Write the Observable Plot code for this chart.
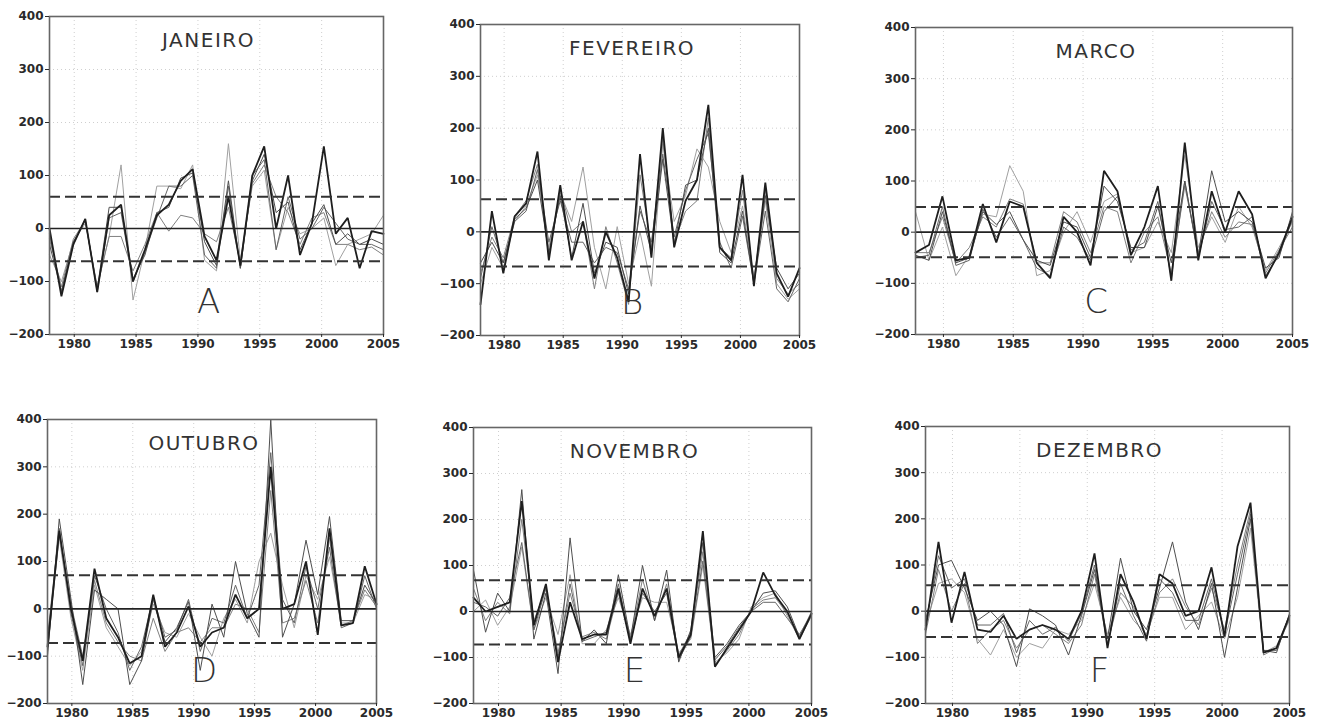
<!DOCTYPE html>
<html><head><meta charset="utf-8">
<script src="https://cdn.jsdelivr.net/npm/d3@7"></script>
<script src="https://cdn.jsdelivr.net/npm/@observablehq/plot@0.6"></script>
<style>
body{margin:0;background:#fff;width:1323px;height:723px;overflow:hidden;position:relative;}
.panel{position:absolute;}
</style></head><body>
<script>
// ---- data ----
const nPoints = 29;              // samples per series, evenly spread over the axis
const tStart = 1978, tEnd = 2005;
const xTicks = [1980, 1985, 1990, 1995, 2000, 2005];
const yTicks = [-200, -100, 0, 100, 200, 300, 400];
const gridX = [1980, 1985, 1990, 1995, 2000];
const gridY = [-100, 100, 200, 300];
const months = ["JANEIRO", "FEVEREIRO", "MARCO", "OUTUBRO", "NOVEMBRO", "DEZEMBRO"];
const letters = ["A", "B", "C", "D", "E", "F"];
const upper = [60, 63, 49, 71, 68, 56];
const lower = [-62, -67, -49, -72, -72, -56];

const A1 = [0,-128,-30,18,-120,25,45,-100,-40,25,45,90,112,-15,-60,60,-70,100,155,0,100,-50,10,155,-10,20,-75,-5,-10];
const A2 = [-30,-118,-25,15,-115,40,40,-95,-50,30,40,95,105,-25,-70,90,-75,90,140,30,50,-40,10,45,-30,-10,-30,-20,-30];
const A3 = [-50,-100,-25,10,-110,-15,120,-135,-40,80,80,75,120,-60,-80,160,-60,80,110,-40,40,-10,0,20,-70,-30,-20,-10,25];
const A4 = [-20,-110,-20,15,-110,-15,-15,-80,-30,30,-5,25,20,-10,-25,40,-65,85,120,60,30,-30,20,30,-30,-30,-40,-35,-50];
const A5 = [-10,-120,-30,18,-120,20,30,-100,-45,20,80,80,100,-50,-75,80,-75,100,130,-40,60,-20,0,40,10,-20,-30,-30,-40];

const B1 = [-140,40,-80,30,55,155,-55,90,-55,20,-90,0,-50,-135,150,-50,200,-30,60,100,245,-30,-55,110,-105,95,-80,-125,-70];
const B2 = [-60,-20,-60,25,45,100,-40,70,-50,55,-80,-20,-30,-120,50,-40,140,-25,90,100,200,-40,-60,40,-100,70,-70,-110,-80];
const B3 = [-100,-30,-70,20,50,110,-30,75,20,125,-30,-110,10,-100,0,-105,170,20,70,160,125,20,-40,50,-90,60,-100,-130,-110];
const B4 = [-80,-10,-50,30,60,130,-50,80,0,20,-110,10,-60,-140,110,-30,180,-20,40,60,220,-30,-50,80,-95,80,-90,-120,-100];
const B5 = [-90,10,-60,20,40,120,-20,60,-20,-20,-60,-30,-40,-110,40,-20,150,-10,80,140,190,-20,-70,30,-100,40,-110,-135,-90];

const C1 = [-40,-25,70,-55,-50,55,-20,60,50,-60,-90,30,0,-65,120,80,-45,10,90,-95,175,-55,80,0,80,35,-90,-40,30];
const C2 = [-45,-55,40,-60,-50,40,15,40,-15,-55,-65,20,10,-50,90,60,-30,-30,50,-60,100,-45,120,20,40,20,-70,-50,40];
const C3 = [40,-55,10,-85,-45,35,30,130,80,-85,-75,0,40,-20,60,75,-40,-30,20,-40,150,-30,30,-20,50,10,-75,-30,20];
const C4 = [-40,-40,30,-60,-30,30,10,65,55,-60,-60,40,20,-40,50,40,-60,0,30,-80,90,-40,40,-10,20,15,-80,-35,10];
const C5 = [-50,-45,50,-65,-55,45,-10,30,-15,-70,-85,10,-10,-55,40,70,-35,-20,60,-90,100,-50,60,5,10,30,-85,-45,25];

const D1 = [-80,165,0,-110,85,-20,-60,-115,-100,30,-80,-50,5,-80,-50,-40,30,-20,0,300,0,10,100,-55,170,-35,-30,90,10];
const D2 = [-100,190,20,-160,40,20,0,-160,-110,20,-70,-40,15,-130,10,-60,100,-10,-60,400,-60,10,145,30,195,-25,-25,50,10];
const D3 = [-70,150,-20,-130,50,-40,-80,-120,-90,10,-50,-60,-10,-60,-100,-20,20,-30,100,160,50,-40,70,20,110,-30,-30,30,20];
const D4 = [-90,160,10,-100,60,-30,-70,-100,-110,-20,-90,-50,-40,-70,-40,-40,10,0,-50,250,-30,-20,60,-30,150,-35,-25,40,5];
const D5 = [-60,170,-10,-120,70,0,-50,-130,-80,25,-60,-45,20,-90,-20,-30,50,-20,50,330,20,-30,90,0,130,-40,-30,70,0];

const E1 = [30,0,10,20,240,-30,60,-110,20,-60,-50,-50,50,-70,50,-10,50,-100,-50,175,-120,-80,-40,0,85,35,0,-60,-5];
const E2 = [90,-45,40,0,265,-60,40,-135,160,-65,-40,-70,80,-60,100,-20,90,-110,-40,150,-100,-70,-30,0,40,45,10,-55,-5];
const E3 = [0,25,-30,10,140,-40,30,-50,80,-70,-70,-40,30,-50,30,20,20,-90,-60,100,-110,-90,-60,10,30,40,-10,-60,-10];
const E4 = [50,-20,20,-5,200,-20,50,-90,40,-55,-45,-60,40,-60,70,-20,60,-95,-45,130,-115,-85,-50,5,25,30,-5,-55,0];
const E5 = [20,10,-10,30,150,-40,50,-100,60,-65,-55,-45,60,-65,40,0,40,-105,-55,110,-105,-75,-35,0,20,20,-15,-50,-5];

const F1 = [-40,150,-25,85,-40,-45,-10,-60,-40,-30,-40,-60,0,125,-80,80,20,-60,80,60,-10,0,95,-55,140,235,-90,-80,-10];
const F2 = [-20,100,110,50,-20,0,-30,-120,5,-10,-30,-95,-10,90,-60,115,0,-40,50,150,20,-40,60,-100,50,200,-85,-90,-5];
const F3 = [-30,60,70,40,-60,-95,-40,-100,-70,-80,-40,-50,-20,60,-50,30,-20,-50,30,30,-40,-10,20,-60,30,180,-90,-75,-20];
const F4 = [-50,90,0,60,-70,-40,-20,-80,-40,-30,-50,-70,-30,80,-70,40,10,-55,40,70,10,-30,50,-40,100,220,-95,-80,-10];
const F5 = [-30,120,50,70,-30,-30,-5,-90,-20,-50,-35,-65,-5,100,-75,60,-10,-65,70,40,-20,-20,70,-50,80,210,-85,-85,-15];

const panelSeries = [
  [A1, A2, A3, A4, A5],
  [B1, B2, B3, B4, B5],
  [C1, C2, C3, C4, C5],
  [D1, D2, D3, D4, D5],
  [E1, E2, E3, E4, E5],
  [F1, F2, F3, F4, F5]
];

// ---- layout & style ----
const frames = [
  {x0: 49,  x1: 383,  y0: 16,  y1: 334},
  {x0: 480, x1: 799,  y0: 24,  y1: 335},
  {x0: 915, x1: 1292, y0: 27,  y1: 334},
  {x0: 47,  x1: 376,  y0: 419, y1: 703},
  {x0: 473, x1: 811,  y0: 427, y1: 703},
  {x0: 925, x1: 1289, y0: 426, y1: 703}
];
const M = {l: 47, r: 26, t: 8, b: 22};
const seriesStyle = [
  {stroke: "#1e1e1e", w: 1.8},
  {stroke: "#4e4e4e", w: 1.0},
  {stroke: "#a0a0a0", w: 1.0},
  {stroke: "#808080", w: 1.0},
  {stroke: "#666", w: 1.0}
];
const drawOrder = [2, 3, 4, 1, 0];

const times = d3.range(nPoints).map(i => tStart + i * (tEnd - tStart) / (nPoints - 1));

frames.forEach((f, p) => {
  const series = panelSeries[p];
  const lineMarks = drawOrder.map(k =>
    Plot.line(series[k].map((v, j) => ({t: times[j], v})), {
      x: "t", y: "v",
      stroke: seriesStyle[k].stroke,
      strokeWidth: seriesStyle[k].w,
      strokeLinejoin: "miter"
    })
  );
  const chart = Plot.plot({
    width: (f.x1 - f.x0) + M.l + M.r,
    height: (f.y1 - f.y0) + M.t + M.b,
    marginLeft: M.l, marginRight: M.r, marginTop: M.t, marginBottom: M.b,
    style: {fontFamily: "DejaVu Sans", fontSize: "12px", color: "#2a2a2a", background: "transparent", overflow: "visible"},
    x: {domain: [tStart, tEnd]},
    y: {domain: [-200, 400]},
    marks: [
      Plot.ruleX(gridX, {stroke: "#cfcfcf", strokeDasharray: "1,3", strokeWidth: 1}),
      Plot.ruleY(gridY, {stroke: "#cfcfcf", strokeDasharray: "1,3", strokeWidth: 1}),
      ...lineMarks,
      Plot.ruleY([0], {stroke: "#222", strokeWidth: 1.6}),
      Plot.ruleY([upper[p], lower[p]], {stroke: "#333", strokeWidth: 2, strokeDasharray: "11,5"}),
      Plot.frame({stroke: "#666", strokeWidth: 1.6}),
      Plot.axisX({ticks: xTicks, tickFormat: d => String(d), tickSize: 3, tickPadding: 2, label: null, fontWeight: "bold", fontSize: 12}),
      Plot.axisY({ticks: yTicks, tickSize: 4, tickPadding: 2, label: null, fontWeight: "bold", fontSize: 12}),
      Plot.text([months[p]], {text: d => d, frameAnchor: "top", dx: -8, dy: 16, fontSize: 20, fill: "#333"}),
      Plot.text([letters[p]], {text: d => d, frameAnchor: "bottom", dx: -8, dy: -22, fontSize: 34, fill: "#333", fontWeight: 300})
    ]
  });
  chart.classList.add("panel");
  chart.style.left = (f.x0 - M.l) + "px";
  chart.style.top = (f.y0 - M.t) + "px";
  document.body.appendChild(chart);
  const textGroups = chart.querySelectorAll('g[aria-label="text"]');
  if (textGroups.length) textGroups[0].setAttribute("letter-spacing", "1.5px");
});
</script>
</body></html>
